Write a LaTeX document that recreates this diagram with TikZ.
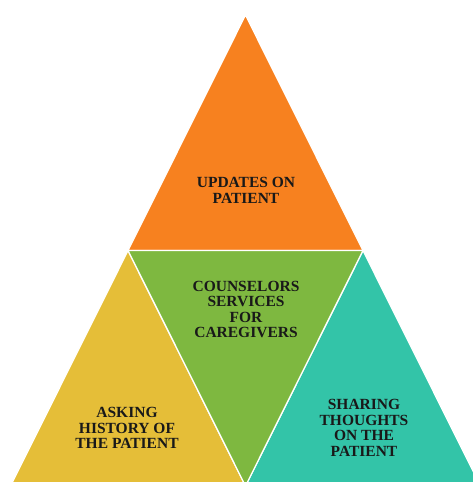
\documentclass[tikz,border=0pt]{standalone}
\usepackage{fontspec}
\setmainfont{Liberation Serif}
\definecolor{updorange}{RGB}{247,129,31}
\definecolor{csgreen}{RGB}{126,184,64}
\definecolor{askyellow}{RGB}{229,190,56}
\definecolor{shareteal}{RGB}{51,196,168}
\begin{document}
\begin{tikzpicture}[x=1pt, y=-1pt]
  \tikzset{
    piece/.style={draw=white, line width=1.3pt, line join=miter},
    piecetext/.style={align=center, inner sep=0pt, text=black!90,
      font=\bfseries\fontsize{15.5}{15.6}\selectfont}
  };
  \useasboundingbox (0,0) rectangle (473,482);
  \clip (0,0) rectangle (473,482);
  % corners of the big triangle and its midpoints
  \coordinate (top) at (245.5,15);
  \coordinate (ml) at (128,250.5);
  \coordinate (mr) at (363,250.5);
  \coordinate (bl) at (10.5,486);
  \coordinate (bm) at (245.5,486);
  \coordinate (br) at (480.5,486);
  \fill[white] (0,0) rectangle (473,482);
  \filldraw[piece, fill=updorange] (top) -- (ml) -- (mr) -- cycle;
  \filldraw[piece, fill=askyellow] (ml) -- (bl) -- (bm) -- cycle;
  \filldraw[piece, fill=shareteal] (mr) -- (bm) -- (br) -- cycle;
  \filldraw[piece, fill=csgreen] (ml) -- (mr) -- (bm) -- cycle;
  \node[piecetext] (updates) at (246,190.5) {UPDATES ON\\PATIENT};
  \node[piecetext] (counsel) at (246,309.5) {COUNSELORS\\SERVICES\\FOR\\CAREGIVERS};
  \node[piecetext] (asking) at (127,428) {ASKING\\HISTORY OF\\THE PATIENT};
  \node[piecetext] (sharing) at (364,428) {SHARING\\THOUGHTS\\ON THE\\PATIENT};
\end{tikzpicture}
\end{document}
